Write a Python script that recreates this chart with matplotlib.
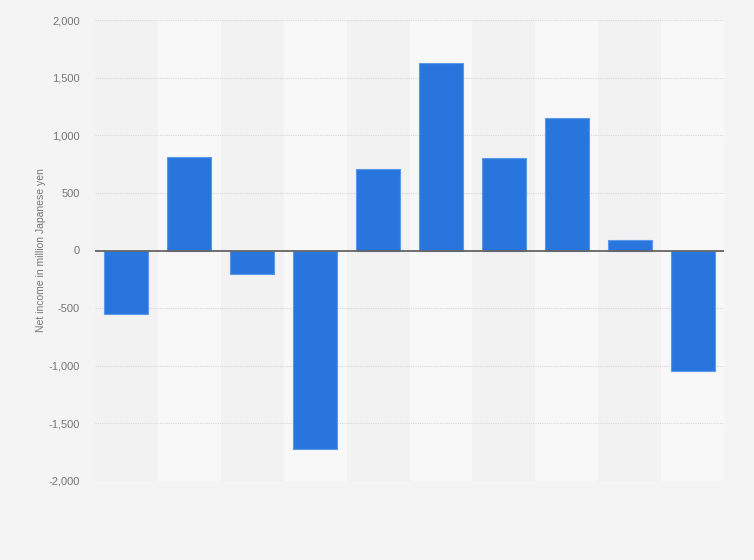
import matplotlib
matplotlib.use('Agg')
import matplotlib.pyplot as plt
import numpy as np

plt.rcParams['font.family'] = ['Liberation Sans', 'DejaVu Sans']

# net income per period, million yen (no category labels shown on the chart)
values = [-549, 810, -205, -1725, 708, 1623, 801, 1150, 92, -1043]
yticks = [-2000, -1500, -1000, -500, 0, 500, 1000, 1500, 2000]
ylabel = 'Net income in million Japanese yen'

fig = plt.figure(figsize=(7.54, 5.6), dpi=100)
fig.patch.set_facecolor('#f4f4f4')
ax = fig.add_axes([95/754, 1 - 481/560, (724-95)/754, (481-20)/560])
ax.set_facecolor('#f2f2f2')

x = np.arange(len(values))
# alternating column bands
for i in x:
    if i % 2 == 1:
        ax.axvspan(i - 0.5, i + 0.5, color='#f8f8f8', zorder=0, lw=0)

ax.bar(x, values, width=0.7, color='#2876dd', edgecolor='#5b98e8', linewidth=0.8, zorder=3)
ax.axhline(0, color='#666666', lw=1.3, zorder=4)

ax.set_xlim(-0.5, len(values) - 0.5)
ax.set_ylim(-2000, 2000)
ax.set_yticks(yticks)
ax.set_yticklabels([f'{v:,}' for v in yticks], fontsize=8, color='#777777')
ax.set_xticks([])
ax.yaxis.grid(True, color='#d8d8d8', linestyle=(0, (1, 1)), lw=0.8, zorder=1)
ax.tick_params(axis='y', length=0, pad=11)
for s in ax.spines.values():
    s.set_visible(False)

ax.set_ylabel(ylabel, fontsize=7.5, color='#777777')
ax.yaxis.set_label_coords(-0.078, 0.5)

fig.savefig('out.png', dpi=100, facecolor=fig.get_facecolor())
